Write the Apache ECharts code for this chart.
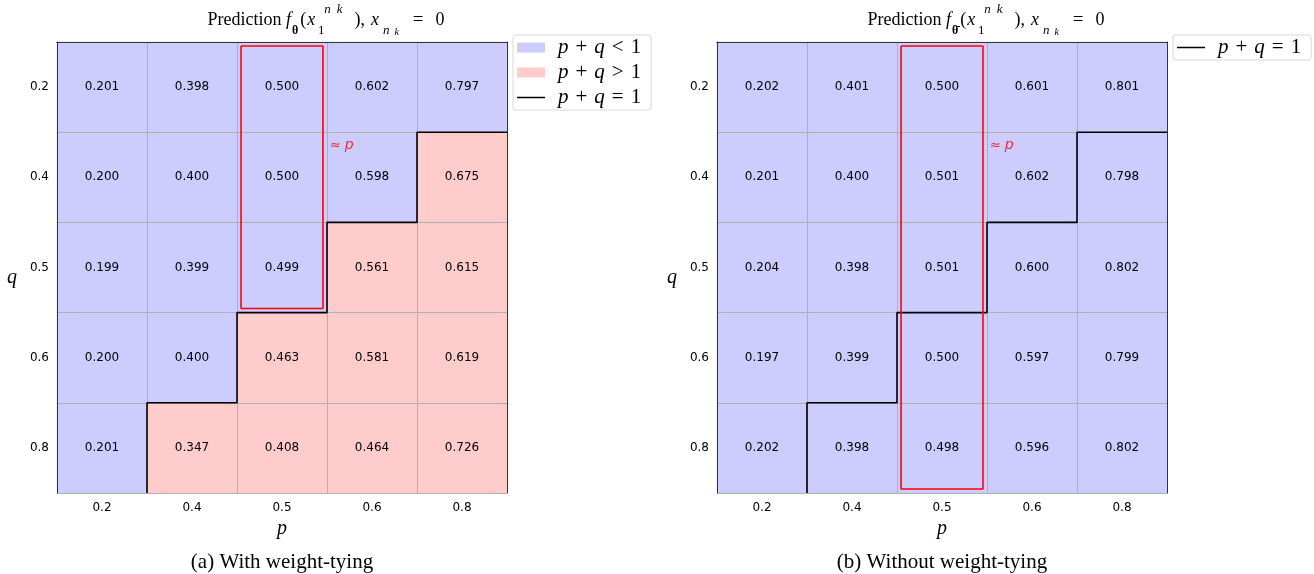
<!DOCTYPE html>
<html>
<head>
<meta charset="utf-8">
<script src="https://cdn.jsdelivr.net/npm/echarts@6/dist/echarts.min.js"></script>
<style>
  html, body { margin: 0; padding: 0; background: #fff; }
  #main { width: 1314px; height: 574px; }
</style>
</head>
<body>
<div id="main"></div>
<script>
var pLabels = ['0.2', '0.4', '0.5', '0.6', '0.8'];
var qLabels = ['0.2', '0.4', '0.5', '0.6', '0.8'];

// rows = q (top to bottom), cols = p
var predTied = [
  [0.201, 0.398, 0.500, 0.602, 0.797],
  [0.200, 0.400, 0.500, 0.598, 0.675],
  [0.199, 0.399, 0.499, 0.561, 0.615],
  [0.200, 0.400, 0.463, 0.581, 0.619],
  [0.201, 0.347, 0.408, 0.464, 0.726]
];
var predUntied = [
  [0.202, 0.401, 0.500, 0.601, 0.801],
  [0.201, 0.400, 0.501, 0.602, 0.798],
  [0.204, 0.398, 0.501, 0.600, 0.802],
  [0.197, 0.399, 0.500, 0.597, 0.799],
  [0.202, 0.398, 0.498, 0.596, 0.802]
];

// how many cells of each row lie left of the p+q=1 line
var boundaryCol = [5, 4, 3, 2, 1];
// the "≈ p" box: column p=0.5, number of rows it covers
var boxCol = 2;
var boxRowsTied = 3;
var boxRowsUntied = 5;

var SERIF = 'Liberation Serif';
var SANS = 'DejaVu Sans';
var BLUE = '#ccccff';
var RED = '#ffcccc';

function st(size, extra) {
  var s = { fontFamily: SERIF, fontSize: size, color: '#000' };
  for (var k in extra) s[k] = extra[k];
  return s;
}
// line box is 34px high, sub/superscripts are pushed to its bottom/top
var mathRich = {
  n: st(18, { lineHeight: 34 }),
  i: st(18, { lineHeight: 34, fontStyle: 'italic', padding: [0, 1, 0, 0] }),
  x: st(18, { lineHeight: 34, fontStyle: 'italic', padding: [0, 6, 0, 1] }),
  x2: st(18, { lineHeight: 34, fontStyle: 'italic', padding: [0, 4, 0, 6] }),
  th: st(12, { lineHeight: 26, fontWeight: 'bold', verticalAlign: 'bottom', padding: [0, 2, 0, 0] }),
  sb: st(13, { lineHeight: 14, verticalAlign: 'bottom', width: 0 }),
  sp: st(13, { lineHeight: 14, fontStyle: 'italic', verticalAlign: 'top', padding: [0, 0, 0, 3] }),
  spk: st(13, { lineHeight: 14, fontStyle: 'italic', verticalAlign: 'top', padding: [0, 12, 0, 6] }),
  sbi: st(13, { lineHeight: 19, fontStyle: 'italic', verticalAlign: 'bottom', padding: [0, 4, 0, 0] }),
  sbk: st(10, { lineHeight: 10, fontStyle: 'italic', verticalAlign: 'bottom', padding: [0, 12, 0, 1] }),
  eq: st(19, { lineHeight: 34, padding: [0, 12, 0, 2] })
};

function cells(values, split, below) {
  var out = [];
  for (var r = 0; r < values.length; r++) {
    for (var c = 0; c < values[r].length; c++) {
      var isBelow = !split || c < boundaryCol[r];
      if (isBelow === below) out.push([c, r, values[r][c]]);
    }
  }
  return out;
}

function stairs() {
  var pts = [];
  for (var r = 1; r < boundaryCol.length; r++) {
    pts.push([boundaryCol[r - 1], r]);
    pts.push([boundaryCol[r], r]);
  }
  pts.push([boundaryCol[boundaryCol.length - 1], boundaryCol.length]);
  return pts;
}

function box(rows) {
  var d = 0.045;
  return [[boxCol + d, d], [boxCol + 1 - d, d], [boxCol + 1 - d, rows - d],
          [boxCol + d, rows - d], [boxCol + d, d]];
}

function axesFor(g, title) {
  var x = [
    {
      type: 'category', gridIndex: g, data: pLabels, position: 'bottom', z: 4,
      name: 'p', nameLocation: 'middle', nameGap: 25,
      nameTextStyle: { fontFamily: SERIF, fontStyle: 'italic', fontSize: 20, color: '#000' },
      axisLine: { lineStyle: { color: '#333', width: 1 } },
      axisTick: { alignWithLabel: true, length: 4, lineStyle: { color: '#333' } },
      axisLabel: { fontFamily: SANS, fontSize: 12, color: '#000', margin: 9 },
      splitLine: { show: false }
    },
    {
      type: 'value', gridIndex: g, min: 0, max: 5, interval: 1, position: 'top', z: 4,
      name: title, nameLocation: 'middle', nameGap: 5,
      nameTextStyle: { rich: mathRich, padding: [0, 0, 0, 88] },
      axisLine: { show: true, lineStyle: { color: '#333', width: 1 } },
      axisTick: { show: false }, axisLabel: { show: false },
      splitLine: { show: true, lineStyle: { color: '#b0b0b0', width: 1 } }
    }
  ];
  var y = [
    {
      type: 'category', gridIndex: g, data: qLabels, inverse: true, position: 'left', z: 4,
      name: 'q', nameLocation: 'middle', nameGap: 40, nameRotate: 0,
      nameTextStyle: { fontFamily: SERIF, fontStyle: 'italic', fontSize: 20, color: '#000', verticalAlign: 'top' },
      axisLine: { lineStyle: { color: '#333', width: 1 } },
      axisTick: { alignWithLabel: true, length: 4, lineStyle: { color: '#333' } },
      axisLabel: { fontFamily: SANS, fontSize: 12, color: '#000', margin: 8 },
      splitLine: { show: false }
    },
    {
      type: 'value', gridIndex: g, min: 0, max: 5, interval: 1, inverse: true, position: 'right', z: 4,
      axisLine: { show: true, lineStyle: { color: '#333', width: 1 } },
      axisTick: { show: false }, axisLabel: { show: false },
      splitLine: { show: true, lineStyle: { color: '#b0b0b0', width: 1 } }
    }
  ];
  return { x: x, y: y };
}

var titleTied = '{n|Prediction }{i|f}{th|θ}{n|(}{x|x}{sb|1}{sp|n}{spk|k}{n|),}{x2|x}{sbi|n}{sbk|k}{eq|=}{n|0}';
var titleUntied = '{n|Prediction }{i|f}{th|θ̄}{n|(}{x|x}{sb|1}{sp|n}{spk|k}{n|),}{x2|x}{sbi|n}{sbk|k}{eq|=}{n|0}';

var a0 = axesFor(0, titleTied);
var a1 = axesFor(1, titleUntied);

function heat(name, g, data, color) {
  return {
    name: name, type: 'heatmap', xAxisIndex: 2 * g, yAxisIndex: 2 * g, data: data,
    itemStyle: { color: color },
    label: {
      show: true, fontFamily: SANS, fontSize: 12, color: '#000',
      formatter: function (p) { return p.value[2].toFixed(3); }
    },
    emphasis: { disabled: true }
  };
}

function overlay(g, rows) {
  return [
    {
      name: 'p + q = 1', type: 'line', xAxisIndex: 2 * g + 1, yAxisIndex: 2 * g + 1, z: 6,
      data: stairs(), symbol: 'none', color: '#000',
      lineStyle: { color: '#000', width: 1.6 }
    },
    {
      name: 'box' + g, type: 'line', xAxisIndex: 2 * g + 1, yAxisIndex: 2 * g + 1, z: 6,
      data: box(rows), symbol: 'none', lineStyle: { color: '#ff0000', width: 1.6 }
    },
    {
      name: 'approx' + g, type: 'scatter', xAxisIndex: 2 * g + 1, yAxisIndex: 2 * g + 1, z: 6,
      data: [[boxCol + 1.03, 1.15]], symbolSize: 0,
      label: {
        show: true, position: 'right', distance: 0, color: '#ff0000',
        fontFamily: SANS, fontSize: 13,
        formatter: '≈ {i|p}', rich: { i: { fontFamily: SANS, fontStyle: 'italic', fontSize: 14, color: '#ff0000' } }
      }
    }
  ];
}

var legendRich = {
  first: st(21, { fontStyle: 'italic', lineHeight: 20, padding: [0, 0, 0, 8] }),
  i: st(21, { fontStyle: 'italic', lineHeight: 20 }),
  op: st(21, { lineHeight: 20, padding: [0, 7, 0, 7] }),
  n: st(21, { lineHeight: 20 })
};
function legendFmt(name) {
  return name.split(' ').map(function (t, k) {
    if (k === 0) return '{first|' + t + '}';
    if (/^[pq]$/.test(t)) return '{i|' + t + '}';
    if (/^[+<>=]$/.test(t)) return '{op|' + t + '}';
    return '{n|' + t + '}';
  }).join('');
}
var lineIcon = 'path://M0,0H28V0.01H0Z M0,4.2H28V5.8H0Z M0,9.99H28V10H0Z';

var chart = echarts.init(document.getElementById('main'), null, { renderer: 'canvas' });
chart.setOption({
  backgroundColor: '#fff',
  animation: false,
  title: [
    { text: '(a) With weight-tying', left: 282, top: 552, textAlign: 'center', padding: 0,
      textStyle: { fontFamily: SERIF, fontSize: 21, fontWeight: 'normal', color: '#000' } },
    { text: '(b) Without weight-tying', left: 942, top: 552, textAlign: 'center', padding: 0,
      textStyle: { fontFamily: SERIF, fontSize: 21, fontWeight: 'normal', color: '#000' } }
  ],
  legend: [
    {
      left: 513, top: 35, orient: 'vertical', itemWidth: 28, itemHeight: 10, itemGap: 4,
      padding: [2, 10, 2, 4], backgroundColor: '#fff', borderColor: '#d8d8d8', borderWidth: 1, borderRadius: 3,
      selectedMode: false,
      data: [{ name: 'p + q < 1', icon: 'rect' }, { name: 'p + q > 1', icon: 'rect' }, { name: 'p + q = 1', icon: lineIcon }],
      formatter: legendFmt, textStyle: { rich: legendRich }
    },
    {
      left: 1173, top: 35, orient: 'vertical', itemWidth: 28, itemHeight: 10,
      padding: [2, 10, 2, 4], backgroundColor: '#fff', borderColor: '#d8d8d8', borderWidth: 1, borderRadius: 3,
      selectedMode: false,
      data: [{ name: 'p + q = 1', icon: lineIcon }],
      formatter: legendFmt, textStyle: { rich: legendRich }
    }
  ],
  grid: [
    { left: 57, top: 42, width: 450, height: 451, outerBoundsMode: 'none' },
    { left: 717, top: 42, width: 450, height: 451, outerBoundsMode: 'none' }
  ],
  xAxis: a0.x.concat(a1.x),
  yAxis: a0.y.concat(a1.y),
  series: [
    heat('p + q < 1', 0, cells(predTied, true, true), BLUE),
    heat('p + q > 1', 0, cells(predTied, true, false), RED),
    heat('untied', 1, cells(predUntied, false, true), BLUE)
  ].concat(overlay(0, boxRowsTied), overlay(1, boxRowsUntied))
});
</script>
</body>
</html>
